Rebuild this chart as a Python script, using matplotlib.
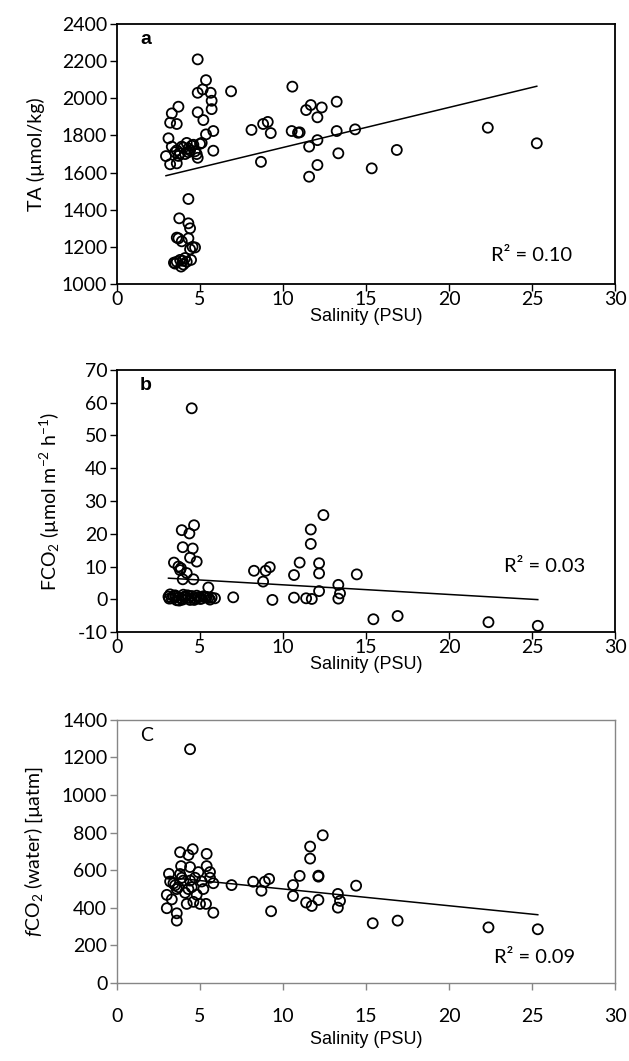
import matplotlib.pyplot as plt
import numpy as np

plt.rcParams['font.family'] = ['Lato', 'DejaVu Sans']
plt.rcParams['mathtext.fontset'] = 'custom'
plt.rcParams['mathtext.rm'] = 'Lato'
plt.rcParams['mathtext.it'] = 'Lato:italic'
plt.rcParams['axes.unicode_minus'] = False

# panel a: salinity vs total alkalinity
sal_a = [4.86, 5.36, 5.16, 4.86, 5.64, 5.70, 5.70, 6.87, 4.86, 5.20, 5.80, 5.36, 5.80, 4.86,
         3.30, 3.70, 3.20, 3.60, 3.10, 2.95, 3.20, 3.60, 3.60, 3.90, 4.10, 4.30, 4.50, 4.70,
         3.30, 3.80, 4.20, 4.40, 4.60, 5.00, 3.50, 4.00, 4.80, 5.10, 3.70, 4.30,
         8.10, 8.67, 8.80, 9.08, 9.26, 10.56, 10.52, 10.90, 13.23, 12.33, 11.67, 11.39, 12.07,
         11.00, 13.23, 14.34, 12.07, 11.57, 13.33, 12.07, 11.57, 15.34, 16.85, 22.33, 25.28,
         4.30, 3.75, 4.30, 4.40, 3.70, 4.30, 3.90, 4.70, 4.40, 3.43, 3.80, 3.86, 4.46, 3.60,
         4.10, 4.20, 3.60, 3.50, 3.95, 4.55, 4.00]
ta = [2210, 2098, 2048, 2030, 2030, 1987, 1942, 2038, 1925, 1883, 1824, 1806, 1718, 1680,
      1919, 1955, 1869, 1862, 1785, 1689, 1645, 1650, 1720, 1740, 1700, 1730, 1745, 1715,
      1740, 1705, 1760, 1720, 1750, 1755, 1710, 1735, 1700, 1760, 1690, 1710,
      1830, 1658, 1862, 1873, 1813, 2063, 1824, 1815, 1982, 1951, 1964, 1937, 1898,
      1817, 1824, 1833, 1775, 1740, 1704, 1641, 1578, 1623, 1722, 1842, 1758,
      1458, 1354, 1327, 1300, 1246, 1246, 1230, 1197, 1187, 1115, 1130, 1094, 1130, 1120,
      1140, 1120, 1250, 1110, 1125, 1200, 1105]

# panel b: salinity vs CO2 flux
sal_b = [4.50, 3.90, 4.36, 4.64, 3.96, 4.56, 3.43, 4.80, 4.40, 3.80, 3.70, 3.96, 4.60, 5.50,
         3.10, 3.30, 3.50, 3.70, 3.90, 4.10, 4.30, 4.50, 4.70, 4.90, 5.10, 5.30, 5.50, 5.70, 5.90,
         3.20, 3.60, 4.00, 4.40, 4.80, 5.20, 5.60, 3.85, 4.20,
         3.15, 3.40, 3.75, 4.05, 4.25, 4.65, 5.00, 5.40, 3.55, 3.95,
         7.00, 8.25, 8.80, 9.20, 8.95, 9.36, 10.66, 11.00, 10.66,
         12.43, 11.67, 11.67, 12.17, 12.17, 14.44, 13.33, 13.43, 13.33, 12.17, 11.39, 11.73,
         15.44, 16.90, 22.37, 25.34]
fco2 = [58.3, 21.1, 20.1, 22.6, 15.9, 15.5, 11.2, 11.5, 12.7, 8.9, 10.0, 6.1, 6.1, 3.6,
        0.8, 0.3, 1.2, 0.5, 0.2, 0.9, 0.4, 1.0, 0.3, 0.6, 0.2, 0.8, 0.4, 0.5, 0.3,
        1.5, -0.3, 1.4, -0.2, 1.1, 0.9, -0.1, 9.5, 8.0,
        0.2, 1.0, -0.4, 0.6, 1.2, -0.2, 0.1, 0.7, 0.9, -0.1,
        0.6, 8.7, 5.4, 9.8, 8.7, -0.2, 7.4, 11.2, 0.5,
        25.7, 21.3, 16.9, 11.0, 7.9, 7.6, 4.4, 1.8, 0.2, 2.5, 0.3, 0.1,
        -6.1, -5.1, -7.0, -8.1]

# panel c: salinity vs fCO2 (water)
sal_c = [4.40, 3.80, 4.56, 4.30, 5.40, 3.86, 4.40, 5.40, 3.13, 5.60, 5.80, 3.00, 3.00, 3.60,
         3.60, 5.80, 5.36, 5.00, 4.60, 4.20, 3.30, 3.40, 3.70, 4.00, 4.30, 4.70, 5.10, 3.50,
         3.90, 4.50, 4.90, 3.20, 3.60, 4.10, 4.80, 5.20, 3.80, 4.40, 5.60,
         6.90, 8.20, 8.70, 8.90, 9.16, 9.28, 10.60, 10.60, 11.00,
         12.39, 11.63, 11.63, 12.13, 12.13, 14.40, 13.30, 13.43, 13.30, 12.13, 11.39, 11.73,
         15.40, 16.90, 22.37, 25.34]
fco2_w = [1244, 696, 712, 681, 687, 622, 617, 622, 581, 590, 531, 469, 398, 371,
          332, 374, 421, 421, 432, 421, 445, 530, 510, 545, 500, 560, 540, 520,
          560, 510, 590, 540, 500, 480, 470, 500, 580, 545, 560,
          521, 539, 491, 539, 554, 382, 521, 463, 570,
          786, 726, 662, 571, 566, 518, 474, 437, 401, 442, 428, 410,
          318, 332, 296, 286]

x_ticks = [0, 5, 10, 15, 20, 25, 30]

fig = plt.figure(figsize=(6.29, 10.61), dpi=100)
ax_a = fig.add_axes([0.186, 0.7323, 0.792, 0.245])
ax_b = fig.add_axes([0.186, 0.4043, 0.792, 0.247])
ax_c = fig.add_axes([0.186, 0.0735, 0.792, 0.248])


def draw_panel(ax, x, y, ylim, yticks, r2, r2_pos, letter, letter_kw, spine_col,
               xpad, xlabelpad):
    ax.scatter(x, y, s=52, facecolors='none', edgecolors='black', linewidths=1.3, zorder=3)
    k, b = np.polyfit(x, y, 1)
    xs = np.array([min(x), max(x)])
    ax.plot(xs, k * xs + b, color='black', lw=1.1)
    ax.set_xlim(0, 30)
    ax.set_ylim(*ylim)
    ax.set_xticks(x_ticks)
    ax.set_yticks(yticks)
    ax.tick_params(direction='out', length=5, width=1, colors=spine_col,
                   labelcolor='black', labelsize=14, pad=2)
    ax.tick_params(axis='x', pad=xpad)
    for s in ax.spines.values():
        s.set_color(spine_col)
        s.set_linewidth(1.3 if spine_col == 'black' else 1.0)
    ax.set_xlabel('Salinity (PSU)', family=['Liberation Sans'], fontsize=13,
                  labelpad=xlabelpad)
    ax.text(r2_pos[0], r2_pos[1], r2, transform=ax.transAxes, fontsize=14.5,
            ha='center', va='center')
    ax.text(0.046, 0.94, letter, transform=ax.transAxes, va='center', **letter_kw)


draw_panel(ax_a, sal_a, ta, (1000, 2400), range(1000, 2401, 200), 'R² = 0.10',
           (0.833, 0.11), 'a', dict(family=['Liberation Sans'], fontweight='bold', fontsize=14),
           'black', 0, 0)
ax_a.set_ylabel('TA (µmol/kg)', fontsize=14, labelpad=12)

draw_panel(ax_b, sal_b, fco2, (-10, 70), range(-10, 71, 10), 'R² = 0.03',
           (0.859, 0.249), 'b', dict(family=['Liberation Sans'], fontweight='bold', fontsize=14),
           'black', 0, 0)
ax_b.set_ylabel('FCO$_2$ (µmol m$^{-2}$ h$^{-1}$)', fontsize=14, labelpad=11)

draw_panel(ax_c, sal_c, fco2_w, (0, 1400), range(0, 1401, 200), 'R² = 0.09',
           (0.839, 0.098), 'C', dict(fontsize=14), '#868686', 13, 4)
ax_c.set_ylabel('$f$CO$_2$ (water) [µatm]', fontsize=14, labelpad=12)

fig.savefig('out.png', dpi=100)
